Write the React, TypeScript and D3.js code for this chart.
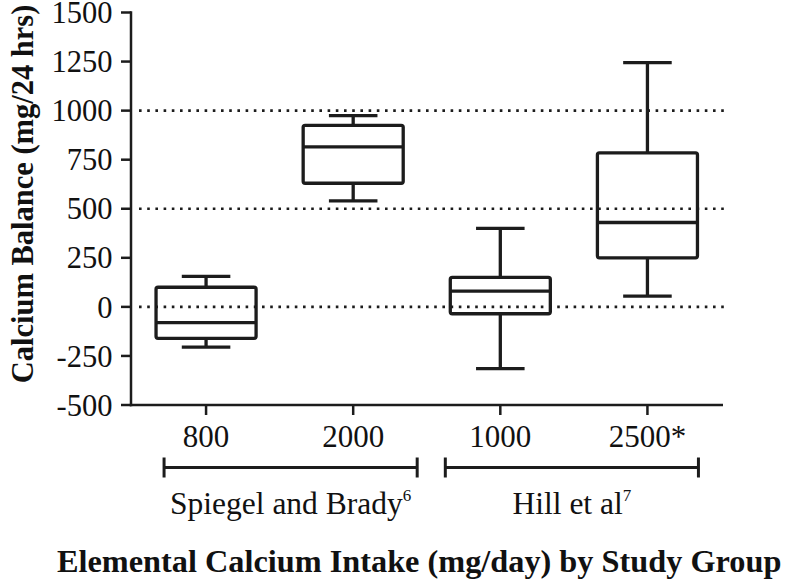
import React from "react";
import * as d3 from "d3";

const categories = ["800", "2000", "1000", "2500*"];
const whiskerHigh = [155, 975, 400, 1245];
const quartile3 = [100, 925, 150, 785];
const medians = [-80, 815, 80, 430];
const quartile1 = [-160, 630, -35, 250];
const whiskerLow = [-205, 540, -315, 55];
const yTicks = [-500, -250, 0, 250, 500, 750, 1000, 1250, 1500];
const refLines = [0, 500, 1000];
const groupNames = ["Spiegel and Brady", "Hill et al"];
const groupRefs = ["6", "7"];
const groupMembers = [["800", "2000"], ["1000", "2500*"]];

const W = 788;
const H = 579;
const INK = "#1c1c1c";
const FONT = "'Liberation Serif', 'Times New Roman', serif";

export default function App() {
  const x = d3.scaleBand<string>().domain(categories).range([132.5, 721]).padding(0);
  const y = d3.scaleLinear().domain([-500, 1500]).range([405, 12.5]);
  const cx = (c: string) => (x(c) as number) + x.bandwidth() / 2;
  const boxW = x.bandwidth() * 0.68;
  const capW = x.bandwidth() * 0.33;
  const axisX = 131;
  const axisY = y(-500);
  const bracketOffsets = [
    [-42, 64],
    [-55, 51],
  ];

  return (
    <svg width={W} height={H} style={{ position: "absolute", left: 0, top: 0, background: "#fff" }}>
      {/* reference dotted lines */}
      {refLines.map((v) => (
        <line
          key={"r" + v}
          x1={139}
          x2={725}
          y1={y(v)}
          y2={y(v)}
          stroke={INK}
          strokeWidth={2.6}
          strokeDasharray="2.6 5.6"
        />
      ))}

      {/* y axis */}
      <line x1={axisX} x2={axisX} y1={y(1500) - 1.2} y2={axisY + 1.2} stroke={INK} strokeWidth={2.5} />
      {yTicks.map((t) => (
        <g key={"yt" + t}>
          <line x1={axisX - 10} x2={axisX} y1={y(t)} y2={y(t)} stroke={INK} strokeWidth={2.5} />
          <text
            x={112.5}
            y={y(t)}
            dy="0.35em"
            textAnchor="end"
            fontFamily={FONT}
            fontSize={30.5}
            fill="#111"
          >
            {t}
          </text>
        </g>
      ))}

      {/* x axis */}
      <line x1={axisX - 1.2} x2={723} y1={axisY} y2={axisY} stroke={INK} strokeWidth={2.5} />
      {categories.map((c) => (
        <g key={"xt" + c}>
          <line x1={cx(c)} x2={cx(c)} y1={axisY} y2={axisY + 10} stroke={INK} strokeWidth={2.5} />
          <text x={cx(c)} y={447} textAnchor="middle" fontFamily={FONT} fontSize={31} fill="#111">
            {c}
          </text>
        </g>
      ))}

      {/* boxes */}
      {categories.map((c, i) => {
        const m = cx(c);
        return (
          <g key={"b" + c} stroke={INK} strokeWidth={3.3} fill="none">
            <line x1={m} x2={m} y1={y(whiskerHigh[i])} y2={y(quartile3[i])} />
            <line x1={m} x2={m} y1={y(quartile1[i])} y2={y(whiskerLow[i])} />
            <line x1={m - capW / 2} x2={m + capW / 2} y1={y(whiskerHigh[i])} y2={y(whiskerHigh[i])} />
            <line x1={m - capW / 2} x2={m + capW / 2} y1={y(whiskerLow[i])} y2={y(whiskerLow[i])} />
            <rect
              x={m - boxW / 2}
              y={y(quartile3[i])}
              width={boxW}
              height={y(quartile1[i]) - y(quartile3[i])}
              rx={2}
              fill="none"
            />
            <line x1={m - boxW / 2} x2={m + boxW / 2} y1={y(medians[i])} y2={y(medians[i])} />
          </g>
        );
      })}

      {/* group brackets */}
      {groupNames.map((g, gi) => {
        const members = groupMembers[gi];
        const left = cx(members[0]) + bracketOffsets[gi][0];
        const right = cx(members[members.length - 1]) + bracketOffsets[gi][1];
        const by = 467.5;
        const mid = (left + right) / 2;
        return (
          <g key={"g" + g}>
            <g stroke={INK} strokeWidth={3}>
              <line x1={left} x2={right} y1={by} y2={by} />
              <line x1={left} x2={left} y1={by - 10} y2={by + 10} />
              <line x1={right} x2={right} y1={by - 10} y2={by + 10} />
            </g>
            <text x={mid} y={514} textAnchor="middle" fontFamily={FONT} fontSize={31.5} fill="#111">
              {g}
              <tspan fontSize={17} dy={-13}>
                {groupRefs[gi]}
              </tspan>
            </text>
          </g>
        );
      })}

      {/* axis titles */}
      <text
        transform="translate(33, 194) rotate(-90)"
        textAnchor="middle"
        fontFamily={FONT}
        fontWeight="bold"
        fontSize={30.5}
        fill="#111"
      >
        Calcium Balance (mg/24 hrs)
      </text>
      <text
        x={57}
        y={571.5}
        textAnchor="start"
        fontFamily={FONT}
        fontWeight="bold"
        fontSize={32.3}
        fill="#111"
      >
        Elemental Calcium Intake (mg/day) by Study Group
      </text>
    </svg>
  );
}
